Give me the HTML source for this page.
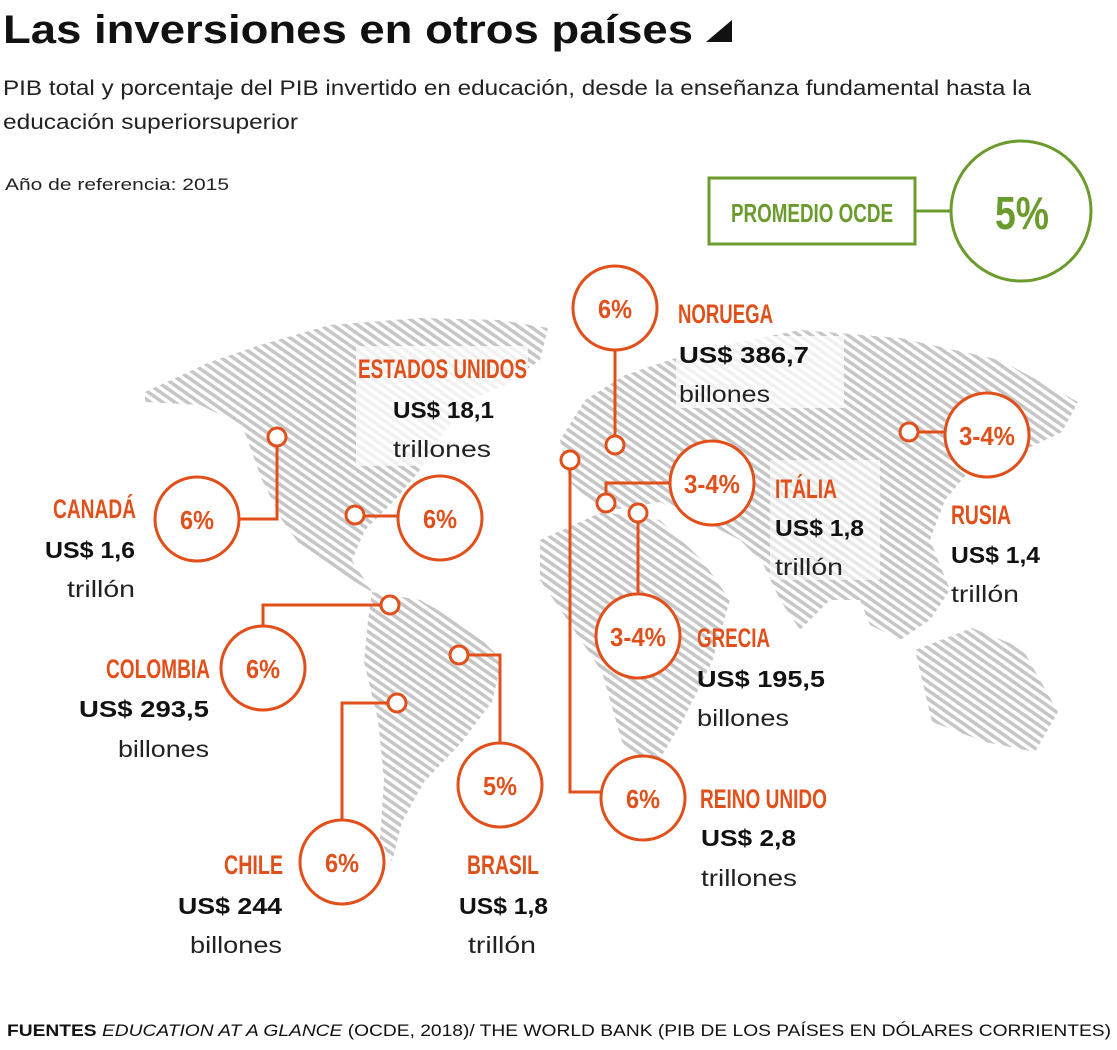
<!DOCTYPE html>
<html><head><meta charset="utf-8"><style>
body{margin:0;background:#fff;}
svg{display:block;}
.o{fill:none;stroke:#e1501b;stroke-width:3;}
.c{fill:#fff;stroke:#e1501b;stroke-width:3;}
.h{font-family:"Liberation Sans",sans-serif;font-weight:bold;fill:#e1501b;}
.b{font-family:"Liberation Sans",sans-serif;font-weight:bold;fill:#111;font-size:23px;}
.n{font-family:"Liberation Sans",sans-serif;fill:#222;font-size:23px;}
</style></head><body>
<svg width="1117" height="1050" viewBox="0 0 1117 1050" xmlns="http://www.w3.org/2000/svg">
<defs><pattern id="ht" width="7" height="7" patternUnits="userSpaceOnUse" patternTransform="rotate(-55)"><rect width="7" height="7" fill="#fff"/><rect width="3.5" height="7" fill="#c6c6c6"/></pattern></defs>
<text x="3" y="43" font-family="Liberation Sans,sans-serif" font-weight="bold" font-size="40" fill="#111" textLength="690" lengthAdjust="spacingAndGlyphs">Las inversiones en otros países</text>
<polygon points="706,42 732,20 732,42" fill="#111"/>
<text x="3" y="95" font-family="Liberation Sans,sans-serif" font-size="21" fill="#222" textLength="1028" lengthAdjust="spacingAndGlyphs">PIB total y porcentaje del PIB invertido en educación, desde la enseñanza fundamental hasta la</text>
<text x="3" y="129" font-family="Liberation Sans,sans-serif" font-size="21" fill="#222" textLength="295" lengthAdjust="spacingAndGlyphs">educación superiorsuperior</text>
<text x="5" y="190" font-family="Liberation Sans,sans-serif" font-size="17" fill="#222" textLength="224" lengthAdjust="spacingAndGlyphs">Año de referencia: 2015</text>
<rect x="709" y="178" width="206" height="66" fill="none" stroke="#6b9b2c" stroke-width="3"/>
<text x="731" y="222" class="h" style="fill:#6b9b2c" font-size="26" textLength="162" lengthAdjust="spacingAndGlyphs">PROMEDIO OCDE</text>
<line x1="915" y1="211" x2="952" y2="211" stroke="#6b9b2c" stroke-width="3"/>
<circle cx="1021" cy="211" r="70" fill="#fff" stroke="#6b9b2c" stroke-width="3"/>
<text x="1022" y="229" class="h" style="fill:#6b9b2c" font-size="46" text-anchor="middle" textLength="54" lengthAdjust="spacingAndGlyphs">5%</text>
<g fill="url(#ht)">
<polygon points="145,392 210,362 260,345 330,325 420,318 500,320 548,328 540,360 505,385 470,400 445,430 420,470 395,500 365,530 352,560 372,592 338,572 300,545 282,520 262,480 242,425 200,405 145,402"/>
<polygon points="372,592 420,600 470,628 502,660 492,702 462,742 424,782 402,822 392,862 380,840 384,780 378,720 364,662 368,620"/>
<polygon points="560,440 585,400 625,375 700,350 800,330 900,338 1000,360 1078,402 1062,432 1020,452 970,470 945,500 930,540 950,590 930,620 900,640 870,625 860,600 830,600 800,630 780,600 762,562 740,540 700,520 660,502 602,512 570,482"/>
<polygon points="540,540 602,512 660,520 702,560 730,600 712,662 682,722 652,772 622,742 602,672 562,612 540,580"/>
<polygon points="915,650 972,628 1022,648 1058,712 1035,752 985,742 932,722"/>
</g>
<rect x="356" y="346" width="172" height="120" fill="#fff" opacity="0.75"/>
<rect x="676" y="336" width="168" height="72" fill="#fff" opacity="0.75"/>
<rect x="770" y="460" width="110" height="120" fill="#fff" opacity="0.6"/>
<g>
<polyline class="o" points="615,350 615,436"/><circle class="c" cx="615" cy="445" r="9"/><circle class="c" cx="615" cy="308" r="42"/>
<line class="o" x1="364" y1="516" x2="398" y2="516"/><circle class="c" cx="355" cy="515" r="9"/><circle class="c" cx="440" cy="518" r="42"/>
<polyline class="o" points="239,519 277,519 277,446"/><circle class="c" cx="277" cy="437" r="9"/><circle class="c" cx="197" cy="519" r="42"/>
<polyline class="o" points="263,626 263,605 381,605"/><circle class="c" cx="390" cy="605" r="9"/><circle class="c" cx="263" cy="668" r="42"/>
<polyline class="o" points="342,820 342,703 388,703"/><circle class="c" cx="397" cy="703" r="9"/><circle class="c" cx="342" cy="862" r="42"/>
<polyline class="o" points="500,743 500,655 468,655"/><circle class="c" cx="459" cy="655" r="9"/><circle class="c" cx="500" cy="785" r="42"/>
<polyline class="o" points="601,792 570,792 570,469"/><circle class="c" cx="570" cy="460" r="9"/><circle class="c" cx="643" cy="798" r="42"/>
<polyline class="o" points="670,483 606,483 606,494"/><circle class="c" cx="606" cy="503" r="9"/><circle class="c" cx="712" cy="483" r="42"/>
<polyline class="o" points="638,594 638,522"/><circle class="c" cx="638" cy="513" r="9"/><circle class="c" cx="638" cy="636" r="42"/>
<line class="o" x1="918" y1="432" x2="945" y2="432"/><circle class="c" cx="909" cy="432" r="9"/><circle class="c" cx="987" cy="435" r="42"/>
</g>
<g class="h" font-size="26" text-anchor="middle">
<text x="615" y="318" textLength="34" lengthAdjust="spacingAndGlyphs">6%</text>
<text x="440" y="528" textLength="34" lengthAdjust="spacingAndGlyphs">6%</text>
<text x="197" y="529" textLength="34" lengthAdjust="spacingAndGlyphs">6%</text>
<text x="263" y="678" textLength="34" lengthAdjust="spacingAndGlyphs">6%</text>
<text x="342" y="872" textLength="34" lengthAdjust="spacingAndGlyphs">6%</text>
<text x="500" y="795" textLength="34" lengthAdjust="spacingAndGlyphs">5%</text>
<text x="643" y="808" textLength="34" lengthAdjust="spacingAndGlyphs">6%</text>
<text x="712" y="493" textLength="56" lengthAdjust="spacingAndGlyphs">3-4%</text>
<text x="638" y="646" textLength="56" lengthAdjust="spacingAndGlyphs">3-4%</text>
<text x="987" y="445" textLength="56" lengthAdjust="spacingAndGlyphs">3-4%</text>
</g>
<g class="h" font-size="27">
<text x="678" y="323" textLength="95" lengthAdjust="spacingAndGlyphs">NORUEGA</text>
<text x="358" y="378" textLength="169" lengthAdjust="spacingAndGlyphs">ESTADOS UNIDOS</text>
<text x="53" y="518" textLength="83" lengthAdjust="spacingAndGlyphs">CANADÁ</text>
<text x="106" y="678" textLength="104" lengthAdjust="spacingAndGlyphs">COLOMBIA</text>
<text x="224" y="874" textLength="59" lengthAdjust="spacingAndGlyphs">CHILE</text>
<text x="467" y="874" textLength="72" lengthAdjust="spacingAndGlyphs">BRASIL</text>
<text x="775" y="498" textLength="62" lengthAdjust="spacingAndGlyphs">ITÁLIA</text>
<text x="951" y="524" textLength="60" lengthAdjust="spacingAndGlyphs">RUSIA</text>
<text x="697" y="647" textLength="73" lengthAdjust="spacingAndGlyphs">GRECIA</text>
<text x="700" y="808" textLength="127" lengthAdjust="spacingAndGlyphs">REINO UNIDO</text>
</g>
<g class="b">
<text x="679" y="363" textLength="130" lengthAdjust="spacingAndGlyphs">US$ 386,7</text>
<text x="393" y="418" textLength="101" lengthAdjust="spacingAndGlyphs">US$ 18,1</text>
<text x="45" y="558" textLength="90" lengthAdjust="spacingAndGlyphs">US$ 1,6</text>
<text x="79" y="717" textLength="130" lengthAdjust="spacingAndGlyphs">US$ 293,5</text>
<text x="178" y="914" textLength="104" lengthAdjust="spacingAndGlyphs">US$ 244</text>
<text x="459" y="914" textLength="89" lengthAdjust="spacingAndGlyphs">US$ 1,8</text>
<text x="775" y="536" textLength="89" lengthAdjust="spacingAndGlyphs">US$ 1,8</text>
<text x="951" y="563" textLength="89" lengthAdjust="spacingAndGlyphs">US$ 1,4</text>
<text x="697" y="687" textLength="128" lengthAdjust="spacingAndGlyphs">US$ 195,5</text>
<text x="701" y="846" textLength="95" lengthAdjust="spacingAndGlyphs">US$ 2,8</text>
</g>
<g class="n">
<text x="679" y="402" textLength="91" lengthAdjust="spacingAndGlyphs">billones</text>
<text x="393" y="457" textLength="98" lengthAdjust="spacingAndGlyphs">trillones</text>
<text x="67" y="597" textLength="68" lengthAdjust="spacingAndGlyphs">trillón</text>
<text x="118" y="757" textLength="91" lengthAdjust="spacingAndGlyphs">billones</text>
<text x="190" y="953" textLength="92" lengthAdjust="spacingAndGlyphs">billones</text>
<text x="468" y="953" textLength="68" lengthAdjust="spacingAndGlyphs">trillón</text>
<text x="775" y="575" textLength="68" lengthAdjust="spacingAndGlyphs">trillón</text>
<text x="951" y="602" textLength="68" lengthAdjust="spacingAndGlyphs">trillón</text>
<text x="697" y="726" textLength="92" lengthAdjust="spacingAndGlyphs">billones</text>
<text x="701" y="886" textLength="96" lengthAdjust="spacingAndGlyphs">trillones</text>
</g>
<text x="7" y="1036" font-family="Liberation Sans,sans-serif" font-size="17" fill="#111" textLength="1104" lengthAdjust="spacingAndGlyphs"><tspan font-weight="bold">FUENTES</tspan>  <tspan font-style="italic">EDUCATION AT A GLANCE</tspan> (OCDE, 2018)/ THE WORLD BANK (PIB DE LOS PAÍSES EN DÓLARES CORRIENTES)</text>
</svg>
</body></html>
